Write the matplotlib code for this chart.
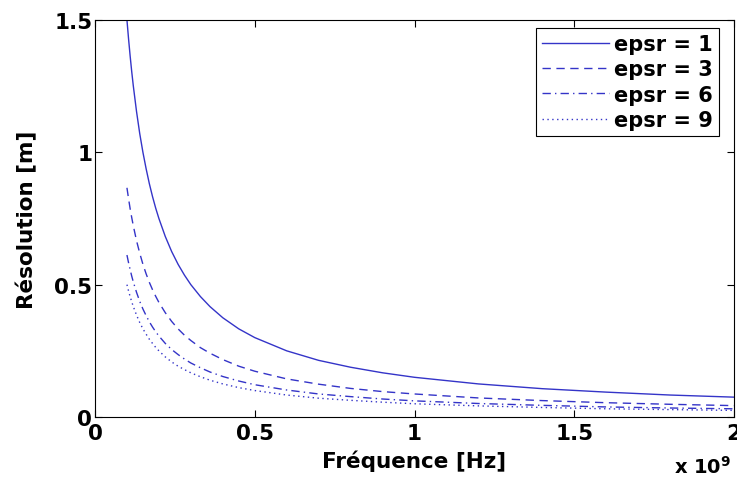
import matplotlib
matplotlib.use('Agg')
import matplotlib.pyplot as plt

# frequency in units of 1e9 Hz
freq = [0.100, 0.105, 0.110, 0.115, 0.120, 0.130, 0.140, 0.150, 0.160, 0.170, 0.180,
        0.190, 0.200, 0.220, 0.240, 0.260, 0.280, 0.300, 0.330, 0.360, 0.400, 0.450,
        0.500, 0.600, 0.700, 0.800, 0.900, 1.000, 1.200, 1.400, 1.600, 1.800, 2.000]
res_eps1 = [1.500, 1.429, 1.364, 1.304, 1.250, 1.154, 1.071, 1.000, 0.938, 0.882, 0.833,
            0.789, 0.750, 0.682, 0.625, 0.577, 0.536, 0.500, 0.455, 0.417, 0.375, 0.333,
            0.300, 0.250, 0.214, 0.188, 0.167, 0.150, 0.125, 0.107, 0.094, 0.083, 0.075]
res_eps3 = [0.866, 0.825, 0.787, 0.753, 0.722, 0.666, 0.619, 0.577, 0.541, 0.509, 0.481,
            0.456, 0.433, 0.394, 0.361, 0.333, 0.309, 0.289, 0.262, 0.241, 0.217, 0.192,
            0.173, 0.144, 0.124, 0.108, 0.096, 0.087, 0.072, 0.062, 0.054, 0.048, 0.043]
res_eps6 = [0.612, 0.583, 0.557, 0.532, 0.510, 0.471, 0.437, 0.408, 0.383, 0.360, 0.340,
            0.322, 0.306, 0.278, 0.255, 0.236, 0.219, 0.204, 0.186, 0.170, 0.153, 0.136,
            0.122, 0.102, 0.087, 0.077, 0.068, 0.061, 0.051, 0.044, 0.038, 0.034, 0.031]
res_eps9 = [0.500, 0.476, 0.455, 0.435, 0.417, 0.385, 0.357, 0.333, 0.313, 0.294, 0.278,
            0.263, 0.250, 0.227, 0.208, 0.192, 0.179, 0.167, 0.152, 0.139, 0.125, 0.111,
            0.100, 0.083, 0.071, 0.063, 0.056, 0.050, 0.042, 0.036, 0.031, 0.028, 0.025]

xticks = [0, 0.5, 1, 1.5, 2]
xticklabels = ['0', '0.5', '1', '1.5', '2']
yticks = [0, 0.5, 1, 1.5]
yticklabels = ['0', '0.5', '1', '1.5']

plt.rcParams['font.family'] = ['DejaVu Sans']
plt.rcParams['font.weight'] = 'bold'
plt.rcParams['mathtext.default'] = 'bf'

color = '#3434c8'
fig = plt.figure(figsize=(7.37, 4.81), dpi=100)
ax = fig.add_axes([95 / 737, 1 - 418 / 481, 639 / 737, 397 / 481])

ax.plot(freq, res_eps1, '-', color=color, lw=1.0, label='epsr = 1')
ax.plot(freq, res_eps3, '--', color=color, lw=1.0, dashes=(6, 4), label='epsr = 3')
ax.plot(freq, res_eps6, '-.', color=color, lw=1.0, dashes=(6, 3, 1, 3), label='epsr = 6')
ax.plot(freq, res_eps9, ':', color=color, lw=1.0, dashes=(1, 2.5), label='epsr = 9')

ax.set_xlim(0, 2)
ax.set_ylim(0, 1.5)
ax.set_xticks(xticks)
ax.set_xticklabels(xticklabels)
ax.set_yticks(yticks)
ax.set_yticklabels(yticklabels)
ax.tick_params(direction='in', length=5, labelsize=15.5, top=True, right=True)
ax.tick_params(axis='x', pad=4)
ax.tick_params(axis='y', pad=2)
for s in ax.spines.values():
    s.set_linewidth(0.8)

ax.set_xlabel('Fréquence [Hz]', fontsize=15.5, fontweight='bold')
ax.xaxis.set_label_coords(0.5, -0.083)
ax.set_ylabel('Résolution [m]', fontsize=15.5, fontweight='bold')
ax.yaxis.set_label_coords(-0.091, 0.5)
fig.text(731 / 737, 1 - 467 / 481, r'x 10$^{9}$', ha='right', va='center',
         fontsize=14, fontweight='bold')

leg = ax.legend(loc='upper right', bbox_to_anchor=(0.9765, 0.980), fontsize=15,
                frameon=True, fancybox=False, edgecolor='black', framealpha=1,
                handlelength=3.2, handletextpad=0.25, borderpad=0.3,
                labelspacing=0.25, borderaxespad=0)
leg.get_frame().set_linewidth(0.8)

fig.savefig('out.png', dpi=100)
